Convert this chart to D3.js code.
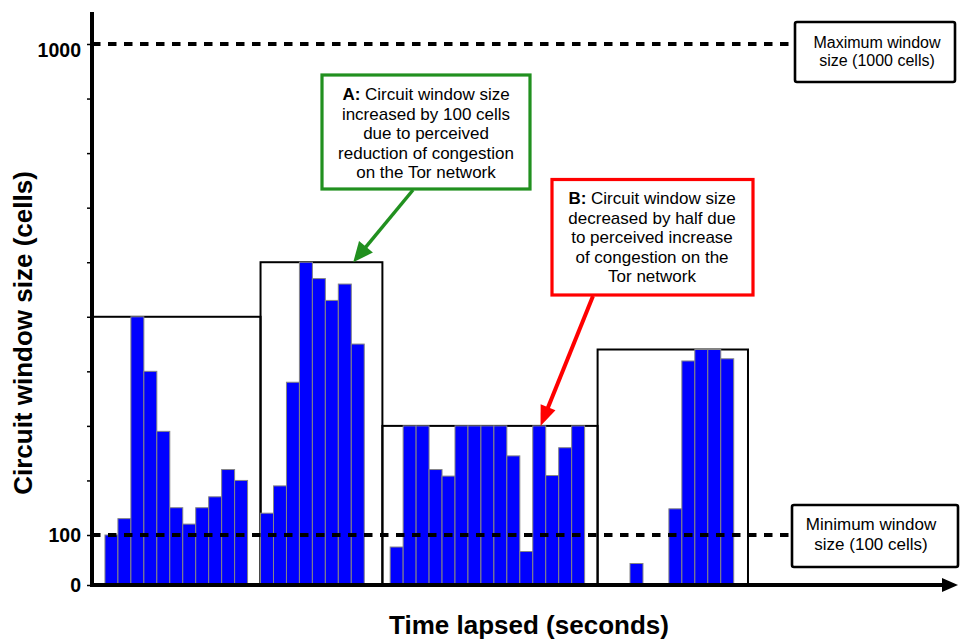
<!DOCTYPE html>
<html>
<head>
<meta charset="utf-8">
<script src="https://cdn.jsdelivr.net/npm/d3@7"></script>
<style>
  html, body { margin: 0; padding: 0; background: #fff; }
  svg { display: block; font-family: "Liberation Sans", Arial, Helvetica, sans-serif; }
</style>
</head>
<body>
<svg id="chart" width="960" height="642"></svg>
<script>
// Sampling instants (seconds) and the circuit window in use at each one (cells)
const sampleTimes = [
  0, 1, 2, 3, 4, 5, 6, 7, 8, 9, 10,
  12, 13, 14, 15, 16, 17, 18, 19,
  22, 23, 24, 25, 26, 27, 28, 29, 30, 31, 32, 33, 34, 35, 36,
  40.5,
  43.5, 44.5, 45.5, 46.5, 47.5
];
const windowCells = [
  100, 130, 500, 400, 290, 150, 120, 150, 170, 220, 200,
  140, 190, 380, 600, 570, 530, 560, 450,
  76, 300, 300, 220, 208, 300, 300, 300, 300, 245, 67, 300, 209, 260, 300,
  43,
  148, 419, 440, 440, 423
];

// Window-size phases: start time, end time and the window limit (cells)
const phaseStart = [-1, 12, 21.4, 38];
const phaseEnd   = [12, 21.4, 38, 49.6];
const phaseSize  = [500, 600, 300, 440];

// Axis ticks
const yTickValues = [0, 100, 200, 300, 400, 500, 600, 700, 800, 900, 1000];
const yLabelValues = [0, 100, 1000];

// Window limits
const maxWindow = 1000;
const minWindow = 100;

// Annotation targets: time and cells the arrows point at
const noteTime  = [19.15, 33.6];
const noteCells = [600, 300];

const svg = d3.select("#chart");

// The first hundred cells get a slightly compressed band below the minimum line
const y = d3.scaleLinear().domain([0, 100, 1000]).range([585, 535, 44]);
const x = d3.scaleLinear().domain([-1, 65.8]).range([92, 958]);
const step = x(1) - x(0);

// Phase boxes
svg.append("g").selectAll("rect")
  .data(d3.range(phaseStart.length))
  .join("rect")
  .attr("x", i => x(phaseStart[i]))
  .attr("y", i => y(phaseSize[i]))
  .attr("width", i => x(phaseEnd[i]) - x(phaseStart[i]))
  .attr("height", i => y(0) - y(phaseSize[i]))
  .attr("fill", "none")
  .attr("stroke", "#000")
  .attr("stroke-width", 2);

// Bars
svg.append("g").selectAll("rect")
  .data(d3.range(sampleTimes.length))
  .join("rect")
  .attr("x", i => x(sampleTimes[i]))
  .attr("y", i => y(windowCells[i]))
  .attr("width", step)
  .attr("height", i => y(0) - y(windowCells[i]))
  .attr("fill", "#0000ff")
  .attr("stroke", "#858585")
  .attr("stroke-width", 1);

// Limit boxes on the right
const limitBoxes = [
  { value: maxWindow, x: 795, y: 22, w: 160, h: 60, cx: 877, size: 16, lines: ["Maximum window", "size (1000 cells)"], base: [48.3, 66.3] },
  { value: minWindow, x: 792, y: 505, w: 166, h: 62, cx: 871, size: 17, lines: ["Minimum window", "size (100 cells)"], base: [529.5, 549.5] }
];

limitBoxes.forEach(b => {
  svg.append("line")
    .attr("x1", x(-1)).attr("x2", b.x)
    .attr("y1", y(b.value)).attr("y2", y(b.value))
    .attr("stroke", "#000")
    .attr("stroke-width", 4)
    .attr("stroke-dasharray", "8.5,7.5");
  svg.append("rect")
    .attr("x", b.x).attr("y", b.y)
    .attr("width", b.w).attr("height", b.h)
    .attr("rx", 2)
    .attr("fill", "#fff")
    .attr("stroke", "#000")
    .attr("stroke-width", 2.6);
  b.lines.forEach((t, k) => {
    svg.append("text")
      .attr("x", b.cx).attr("y", b.base[k])
      .attr("text-anchor", "middle")
      .attr("font-size", b.size)
      .attr("fill", "#000")
      .text(t);
  });
});

// Y axis: ticks, line and labels
svg.append("g")
  .attr("transform", `translate(${x(-1)},0)`)
  .call(d3.axisLeft(y).tickValues(yTickValues).tickSize(5).tickFormat(""))
  .call(g => g.select(".domain").remove())
  .call(g => g.selectAll(".tick line").attr("stroke", "#000").attr("stroke-width", 1.5));

svg.append("line")
  .attr("x1", x(-1)).attr("x2", x(-1))
  .attr("y1", 12).attr("y2", y(0) + 2)
  .attr("stroke", "#000").attr("stroke-width", 4);

svg.append("g").selectAll("text")
  .data(yLabelValues)
  .join("text")
  .attr("x", 81)
  // the top label sits just under its line
  .attr("y", v => y(v) + (v === maxWindow ? 13 : 7))
  .attr("text-anchor", "end")
  .attr("font-size", 19.5)
  .attr("font-weight", "bold")
  .attr("fill", "#000")
  .text(v => v);

// X axis with arrow head
const xEnd = x.range()[1];
svg.append("line")
  .attr("x1", x(-1) - 2).attr("x2", xEnd - 14)
  .attr("y1", y(0)).attr("y2", y(0))
  .attr("stroke", "#000").attr("stroke-width", 4);
svg.append("path")
  .attr("d", `M${xEnd},${y(0)} L${xEnd - 16},${y(0) - 7} L${xEnd - 16},${y(0) + 7} Z`)
  .attr("fill", "#000");

// Axis titles
svg.append("text")
  .attr("x", 529).attr("y", 634)
  .attr("text-anchor", "middle")
  .attr("font-size", 26)
  .attr("font-weight", "bold")
  .text("Time lapsed (seconds)");

svg.append("text")
  .attr("transform", "translate(32,333) rotate(-90)")
  .attr("text-anchor", "middle")
  .attr("font-size", 26)
  .attr("font-weight", "bold")
  .text("Circuit window size (cells)");

// Annotations
function arrow(x1, y1, x2, y2, color, width, headLen, headHalf) {
  const dx = x2 - x1, dy = y2 - y1;
  const len = Math.hypot(dx, dy);
  const ux = dx / len, uy = dy / len;
  const bx = x2 - ux * headLen, by = y2 - uy * headLen;
  svg.append("line")
    .attr("x1", x1).attr("y1", y1)
    .attr("x2", bx + ux * 2).attr("y2", by + uy * 2)
    .attr("stroke", color).attr("stroke-width", width);
  svg.append("path")
    .attr("d", `M${x2},${y2} L${bx - uy * headHalf},${by + ux * headHalf} L${bx + uy * headHalf},${by - ux * headHalf} Z`)
    .attr("fill", color);
}

const notes = [
  {
    color: "#21901f", box: [322, 75, 208, 114], cx: 426,
    base: [100, 119.6, 139.2, 158.8, 178.4],
    lead: "A:", lines: [" Circuit window size", "increased by 100 cells", "due to perceived", "reduction of congestion", "on the Tor network"],
    from: [413, 190], head: [20, 9], width: 3.5
  },
  {
    color: "#ff0000", box: [552, 179.5, 201, 115.5], cx: 652,
    base: [204, 223.6, 243.2, 262.8, 282.4],
    lead: "B:", lines: [" Circuit window size", "decreased by half due", "to perceived increase", "of congestion on the", "Tor network"],
    from: [593, 296], head: [20, 8], width: 4
  }
];

notes.forEach((n, i) => {
  arrow(n.from[0], n.from[1], x(noteTime[i]), y(noteCells[i]), n.color, n.width, n.head[0], n.head[1]);
  svg.append("rect")
    .attr("x", n.box[0]).attr("y", n.box[1])
    .attr("width", n.box[2]).attr("height", n.box[3])
    .attr("fill", "#fff")
    .attr("stroke", n.color)
    .attr("stroke-width", 3.2);
  n.lines.forEach((t, k) => {
    const txt = svg.append("text")
      .attr("x", n.cx).attr("y", n.base[k])
      .attr("text-anchor", "middle")
      .attr("font-size", 17)
      .attr("fill", "#000");
    if (k === 0) {
      txt.append("tspan").attr("font-weight", "bold").text(n.lead);
      txt.append("tspan").text(t);
    } else {
      txt.text(t);
    }
  });
});
</script>
</body>
</html>
